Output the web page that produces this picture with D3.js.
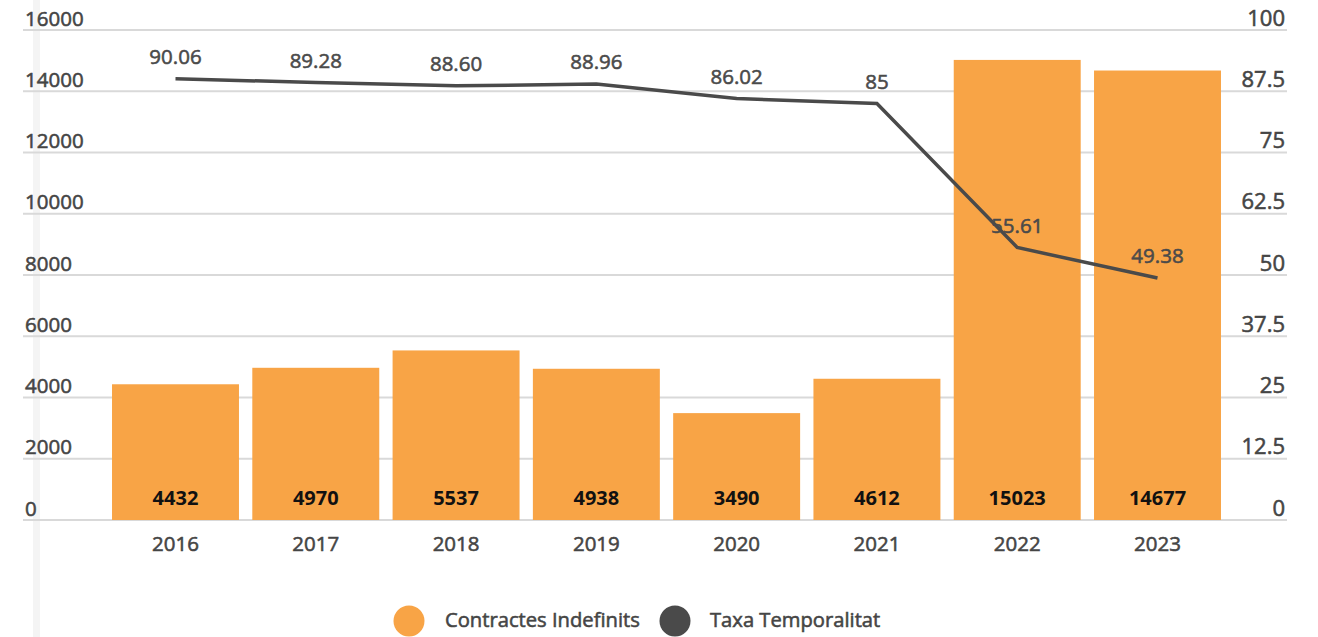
<!DOCTYPE html>
<html>
<head>
<meta charset="utf-8">
<script src="https://cdn.jsdelivr.net/npm/d3@7"></script>
<style>
  html, body { margin: 0; padding: 0; background: #fff; }
  svg { display: block; }
  text { font-family: "Open Sans", "Noto Sans", sans-serif; }
  .med { stroke-width: 0.55px; paint-order: stroke fill; }
</style>
</head>
<body>
<svg id="chart" width="1318" height="637"></svg>
<script>
const years = ["2016", "2017", "2018", "2019", "2020", "2021", "2022", "2023"];
const contractes = [4432, 4970, 5537, 4938, 3490, 4612, 15023, 14677];
const taxa = [90.06, 89.28, 88.60, 88.96, 86.02, 85, 55.61, 49.38];
const taxaLabels = ["90.06", "89.28", "88.60", "88.96", "86.02", "85", "55.61", "49.38"];
const leftTicks = [0, 2000, 4000, 6000, 8000, 10000, 12000, 14000, 16000];
const rightTicks = [0, 12.5, 25, 37.5, 50, 62.5, 75, 87.5, 100];
const seriesNames = ["Contractes Indefinits", "Taxa Temporalitat"];

const barColor = "#F8A446";
const lineColor = "#4a4a4a";
const textColor = "#454545";

const svg = d3.select("#chart");
const gridX0 = 23, gridX1 = 1287;
const yTop = 30, yBottom = 520;

// faint vertical stripe at left
svg.append("rect").attr("x", 33).attr("y", 0).attr("width", 7).attr("height", 637).attr("fill", "#f4f4f4");

const x = d3.scaleBand().domain(years).range([105, 1228]).paddingInner(0.095).paddingOuter(0.05);
const yL = d3.scaleLinear().domain([0, 16000]).range([yBottom, yTop]);
const yR = d3.scaleLinear().domain([0, 100]).range([yBottom, yTop]);

// gridlines
svg.append("g").selectAll("line").data(leftTicks).join("line")
  .attr("x1", gridX0).attr("x2", gridX1)
  .attr("y1", d => yL(d)).attr("y2", d => yL(d))
  .attr("stroke", "#d9d9d9").attr("stroke-width", 2);

function medium(sel, color) {
  sel.attr("class", "med").attr("fill", color).attr("stroke", color)
    .style("font-family", "'Open Sans', sans-serif").style("font-weight", 400);
}

// left axis labels
const leftAxis = d3.axisLeft(yL).tickValues(leftTicks).tickSize(0).tickFormat(d => String(d));
const gL = svg.append("g").attr("transform", `translate(${gridX0 + 2},0)`).call(leftAxis);
gL.select(".domain").remove();
gL.selectAll("text").attr("text-anchor", "start").attr("x", 0).attr("dy", null).attr("y", -5)
  .style("font-size", "20.5px").call(medium, textColor);

// right axis labels
const rightAxis = d3.axisRight(yR).tickValues(rightTicks).tickSize(0).tickFormat(d => String(d));
const gR = svg.append("g").attr("transform", `translate(${gridX1 - 2},0)`).call(rightAxis);
gR.select(".domain").remove();
gR.selectAll("text").attr("text-anchor", "end").attr("x", 0).attr("dy", null).attr("y", -5)
  .style("font-size", "22px").call(medium, textColor);

// bars
svg.append("g").selectAll("rect").data(years).join("rect")
  .attr("x", d => x(d)).attr("width", x.bandwidth())
  .attr("y", (d, i) => yL(contractes[i])).attr("height", (d, i) => yBottom - yL(contractes[i]))
  .attr("fill", barColor);

// bar labels
svg.append("g").selectAll("text").data(years).join("text")
  .attr("x", d => x(d) + x.bandwidth() / 2).attr("y", 505)
  .attr("text-anchor", "middle").attr("fill", "#111")
  .style("font-size", "20px").style("font-weight", 700)
  .text((d, i) => contractes[i]);

// x axis labels
const xAxis = d3.axisBottom(x).tickSize(0);
const gX = svg.append("g").attr("transform", `translate(0,${yBottom})`).call(xAxis);
gX.select(".domain").remove();
gX.selectAll("text").attr("dy", null).attr("y", 31)
  .style("font-size", "20.5px").call(medium, textColor);

// line
const line = d3.line().x((d, i) => x(years[i]) + x.bandwidth() / 2).y(d => yR(d));
svg.append("path").datum(taxa).attr("d", line)
  .attr("fill", "none").attr("stroke", lineColor).attr("stroke-width", 3.5).attr("stroke-linejoin", "miter");

// line labels
svg.append("g").selectAll("text").data(taxa).join("text")
  .attr("x", (d, i) => x(years[i]) + x.bandwidth() / 2).attr("y", d => yR(d) - 15)
  .attr("text-anchor", "middle")
  .style("font-size", "20.5px")
  .call(medium, "#4a4a4a")
  .text((d, i) => taxaLabels[i]);

// legend
const legend = svg.append("g");
const legItems = [
  { name: seriesNames[0], color: barColor, cx: 409, tx: 445 },
  { name: seriesNames[1], color: lineColor, cx: 675, tx: 710 }
];
legend.selectAll("circle").data(legItems).join("circle")
  .attr("cx", d => d.cx).attr("cy", 621).attr("r", 15.5).attr("fill", d => d.color);
legend.selectAll("text").data(legItems).join("text")
  .attr("x", d => d.tx).attr("y", 627)
  .style("font-size", "20.2px")
  .call(medium, textColor)
  .text(d => d.name);
</script>
</body>
</html>
